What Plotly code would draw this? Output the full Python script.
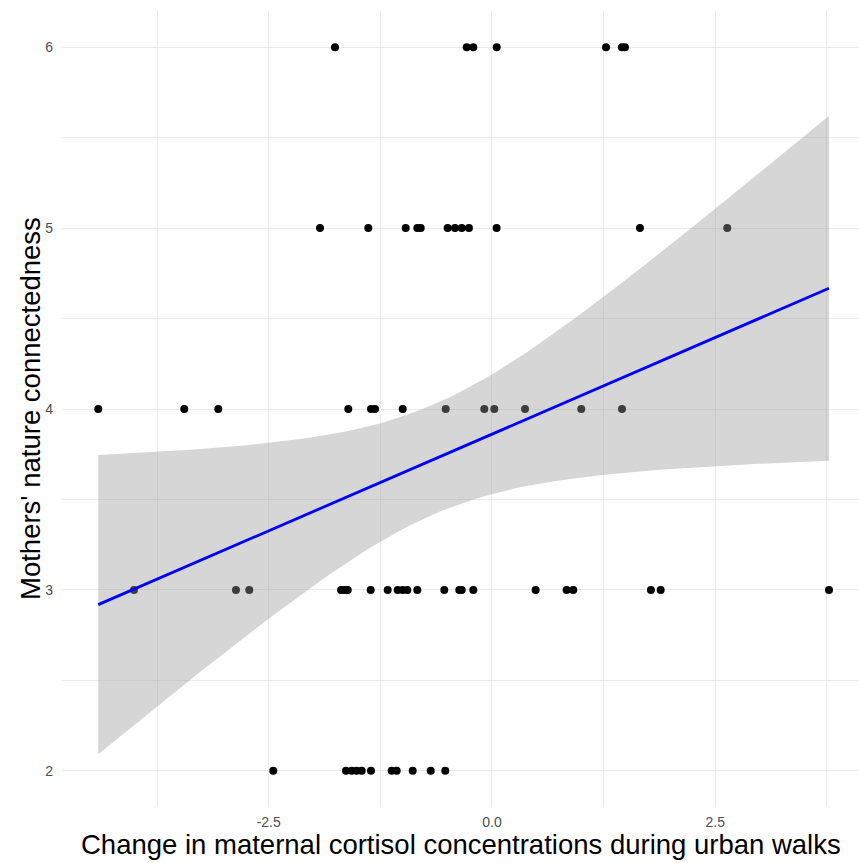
import numpy as np
import plotly.graph_objects as go

# Change in maternal cortisol during urban walks, grouped by nature-connectedness score
cortisol_at_6 = [-1.758, -0.283, -0.209, 0.053, 1.277, 1.455, 1.489]
cortisol_at_5 = [-1.926, -1.385, -0.966, -0.836, -0.798, -0.496, -0.414, -0.339,
                 -0.258, 0.052, 1.657, 2.635]
cortisol_at_4 = [-4.409, -3.446, -3.065, -1.609, -1.355, -1.310, -1.000, -0.518,
                 -0.086, 0.026, 0.370, 1.000, 1.456]
cortisol_at_3 = [-4.009, -2.867, -2.718, -1.690, -1.650, -1.615, -1.358, -1.168,
                 -1.056, -1.000, -0.948, -0.836, -0.534, -0.366, -0.339, -0.209,
                 0.489, 0.836, 0.910, 1.780, 1.889, 3.774]
cortisol_at_2 = [-2.449, -1.635, -1.571, -1.515, -1.459, -1.355, -1.123, -1.067,
                 -0.888, -0.686, -0.523]

connectedness_levels = [6, 5, 4, 3, 2]
x_tick_vals = [-2.5, 0.0, 2.5]
x_tick_text = ["-2.5", "0.0", "2.5"]
y_tick_vals = [2, 3, 4, 5, 6]
y_tick_text = ["2", "3", "4", "5", "6"]

groups = [cortisol_at_6, cortisol_at_5, cortisol_at_4, cortisol_at_3, cortisol_at_2]
x = np.concatenate([np.array(g, dtype=float) for g in groups])
y = np.concatenate([np.full(len(g), lvl, dtype=float) for g, lvl in zip(groups, connectedness_levels)])

# Ordinary least squares fit with 95% confidence band for the mean
n = len(x)
slope, intercept = np.polyfit(x, y, 1)
resid = y - (intercept + slope * x)
s = np.sqrt(np.sum(resid ** 2) / (n - 2))
sxx = np.sum((x - x.mean()) ** 2)
t_crit = 1.997  # two-sided 95% t quantile, df = n - 2
xs = np.linspace(x.min(), x.max(), 80)
fit = intercept + slope * xs
se = s * np.sqrt(1.0 / n + (xs - x.mean()) ** 2 / sxx)
upper = fit + t_crit * se
lower = fit - t_crit * se

fig = go.Figure()
fig.add_trace(go.Scatter(x=x, y=y, mode="markers",
                         marker=dict(color="black", size=8, line=dict(width=0)),
                         showlegend=False, hoverinfo="skip"))
fig.add_trace(go.Scatter(x=xs, y=lower, mode="lines", line=dict(width=0),
                         showlegend=False, hoverinfo="skip"))
fig.add_trace(go.Scatter(x=xs, y=upper, mode="lines", line=dict(width=0),
                         fill="tonexty", fillcolor="rgba(153,153,153,0.4)",
                         showlegend=False, hoverinfo="skip"))
fig.add_trace(go.Scatter(x=xs, y=fit, mode="lines",
                         line=dict(color="#0000FF", width=2.8),
                         showlegend=False, hoverinfo="skip"))

grid = "#EBEBEB"
tick_font = dict(size=14, color="#4D4D4D")
fig.update_layout(
    width=859, height=863,
    margin=dict(l=62, r=0, t=10.5, b=56.1),
    paper_bgcolor="white", plot_bgcolor="white",
    font=dict(family="Liberation Sans, Arial, sans-serif"),
    xaxis=dict(range=[-4.815, 4.110], tickvals=x_tick_vals, ticktext=x_tick_text,
               showgrid=True, gridcolor=grid, gridwidth=1.1, zeroline=False,
               showline=False, ticks="", tickfont=tick_font,
               ticklabelstandoff=5,
               minor=dict(showgrid=True, gridcolor=grid, gridwidth=0.55,
                          tickvals=[-3.75, -1.25, 1.25, 3.75])),
    yaxis=dict(range=[1.8, 6.2], tickvals=y_tick_vals, ticktext=y_tick_text,
               showgrid=True, gridcolor=grid, gridwidth=1.1, zeroline=False,
               showline=False, ticks="", tickfont=tick_font,
               ticklabelstandoff=8,
               minor=dict(showgrid=True, gridcolor=grid, gridwidth=0.55,
                          tickvals=[1.5, 2.5, 3.5, 4.5, 5.5])),
    annotations=[
        dict(text="Change in maternal cortisol concentrations during urban walks",
             xref="paper", yref="paper", x=0.5, y=0, xanchor="center", yanchor="middle",
             yshift=-37, showarrow=False, font=dict(size=27.5, color="black")),
        dict(text="Mothers' nature connectedness",
             xref="paper", yref="paper", x=0, y=0.5, xanchor="center", yanchor="middle",
             xshift=-32, textangle=-90, showarrow=False, font=dict(size=27.5, color="black")),
    ],
)

fig.write_html("out.html")
